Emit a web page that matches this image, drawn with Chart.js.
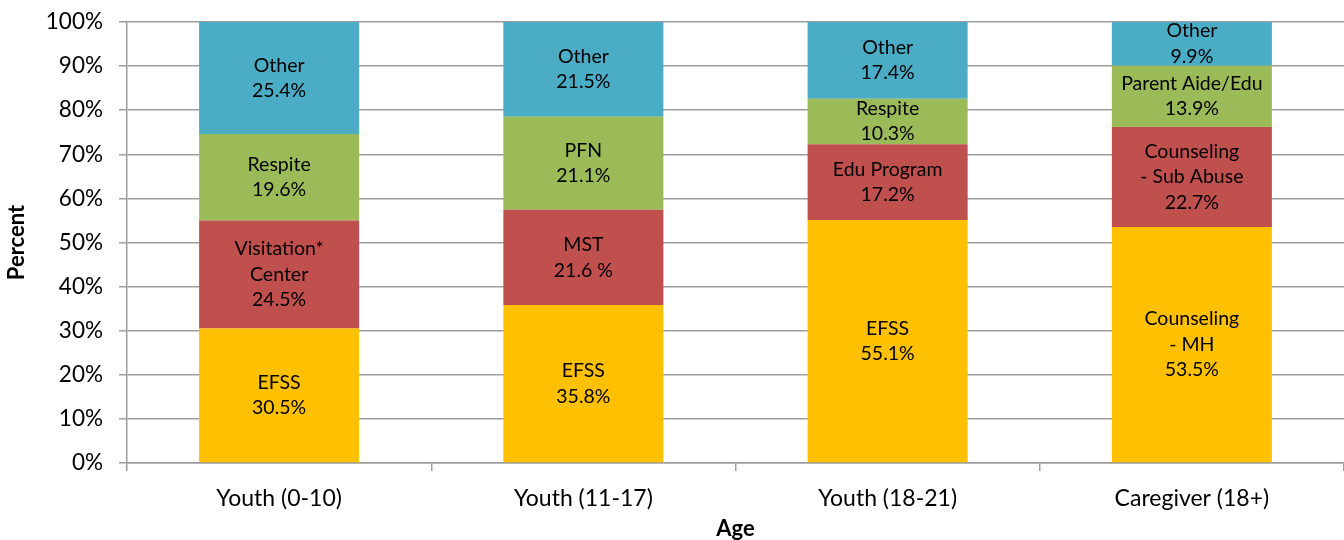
<!DOCTYPE html>
<html>
<head>
<meta charset="utf-8">
<script src="https://cdn.jsdelivr.net/npm/chart.js@4.4.1/dist/chart.umd.min.js"></script>
<style>
  html, body { margin: 0; padding: 0; background: #fff; }
  #wrap { width: 1344px; height: 540px; }
</style>
</head>
<body>
<div id="wrap"><canvas id="chart"></canvas></div>
<script>
// categories on the x axis
const categories = ["Youth (0-10)", "Youth (11-17)", "Youth (18-21)", "Caregiver (18+)"];

// stacked segments, bottom to top (percent)
const bottomValues = [30.5, 35.8, 55.1, 53.5];
const secondValues = [24.5, 21.6, 17.2, 22.7];
const thirdValues = [19.6, 21.1, 10.3, 13.9];
const topValues = [25.4, 21.5, 17.4, 9.9];

// label text per segment (lines)
const bottomLabels = [["EFSS", "30.5%"], ["EFSS", "35.8%"], ["EFSS", "55.1%"], ["Counseling", "- MH", "53.5%"]];
const secondLabels = [["Visitation*", "Center", "24.5%"], ["MST", "21.6 %"], ["Edu Program", "17.2%"], ["Counseling", "- Sub Abuse", "22.7%"]];
const thirdLabels = [["Respite", "19.6%"], ["PFN", "21.1%"], ["Respite", "10.3%"], ["Parent Aide/Edu", "13.9%"]];
const topLabels = [["Other", "25.4%"], ["Other", "21.5%"], ["Other", "17.4%"], ["Other", "9.9%"]];

const yTicks = [0, 10, 20, 30, 40, 50, 60, 70, 80, 90, 100];

const FONT = "Lato, 'Open Sans', sans-serif";

// draws the multi-line labels in the middle of each segment
const segmentLabels = {
  id: "segmentLabels",
  afterDatasetsDraw(chart) {
    const ctx = chart.ctx;
    ctx.save();
    ctx.font = "19.5px " + FONT;
    ctx.fillStyle = "#000";
    ctx.textAlign = "center";
    ctx.textBaseline = "middle";
    chart.data.datasets.forEach((ds, i) => {
      chart.getDatasetMeta(i).data.forEach((bar, j) => {
        const lines = ds.segLabels[j];
        const cy = (bar.y + bar.base) / 2;
        const lh = 25.5;
        const start = cy - (lines.length - 1) * lh / 2;
        lines.forEach((t, k) => ctx.fillText(t, bar.x, start + k * lh));
      });
    });
    ctx.restore();
  }
};

const ds = (data, labels, color) => ({
  data: data,
  segLabels: labels,
  backgroundColor: color,
  borderWidth: 0,
  barPercentage: 0.526,
  categoryPercentage: 1.0,
});

new Chart(document.getElementById("chart").getContext("2d"), {
  type: "bar",
  data: {
    labels: categories,
    datasets: [
      ds(bottomValues, bottomLabels, "#FFC000"),
      ds(secondValues, secondLabels, "#C0504D"),
      ds(thirdValues, thirdLabels, "#9BBB59"),
      ds(topValues, topLabels, "#4BACC6"),
    ],
  },
  options: {
    responsive: true,
    maintainAspectRatio: false,
    animation: false,
    layout: { padding: { top: 22, right: 0, left: 0, bottom: 0 } },
    plugins: { legend: { display: false }, tooltip: { enabled: false } },
    scales: {
      x: {
        stacked: true,
        afterFit: (s) => { s.height = 77; s.paddingLeft = 0; s.paddingRight = 0; },
        grid: { offset: true, drawOnChartArea: false, tickLength: 8, color: "#9d9d9d", lineWidth: 1.5 },
        border: { color: "#9d9d9d", width: 1.5 },
        ticks: { font: { family: FONT, size: 23 }, color: "#000", padding: 14 },
        title: { display: true, text: "Age", font: { family: FONT, size: 22, weight: "bold", lineHeight: 1 }, color: "#000", padding: 0 },
      },
      y: {
        stacked: true,
        min: 0,
        max: 100,
        afterFit: (s) => { s.width = 127; s.paddingTop = 0; s.paddingBottom = 0; },
        afterBuildTicks: (s) => { s.ticks = yTicks.map((v) => ({ value: v })); },
        grid: { tickLength: 8, color: "#9d9d9d", lineWidth: 1.5 },
        border: { color: "#9d9d9d", width: 1.5 },
        ticks: { font: { family: FONT, size: 22.5 }, color: "#000", padding: 16, callback: (v) => v + "%" },
        title: { display: true, text: "Percent", font: { family: FONT, size: 22, weight: "bold" }, color: "#000", padding: { top: 4, bottom: 0 } },
      },
    },
  },
  plugins: [segmentLabels],
});
</script>
</body>
</html>
